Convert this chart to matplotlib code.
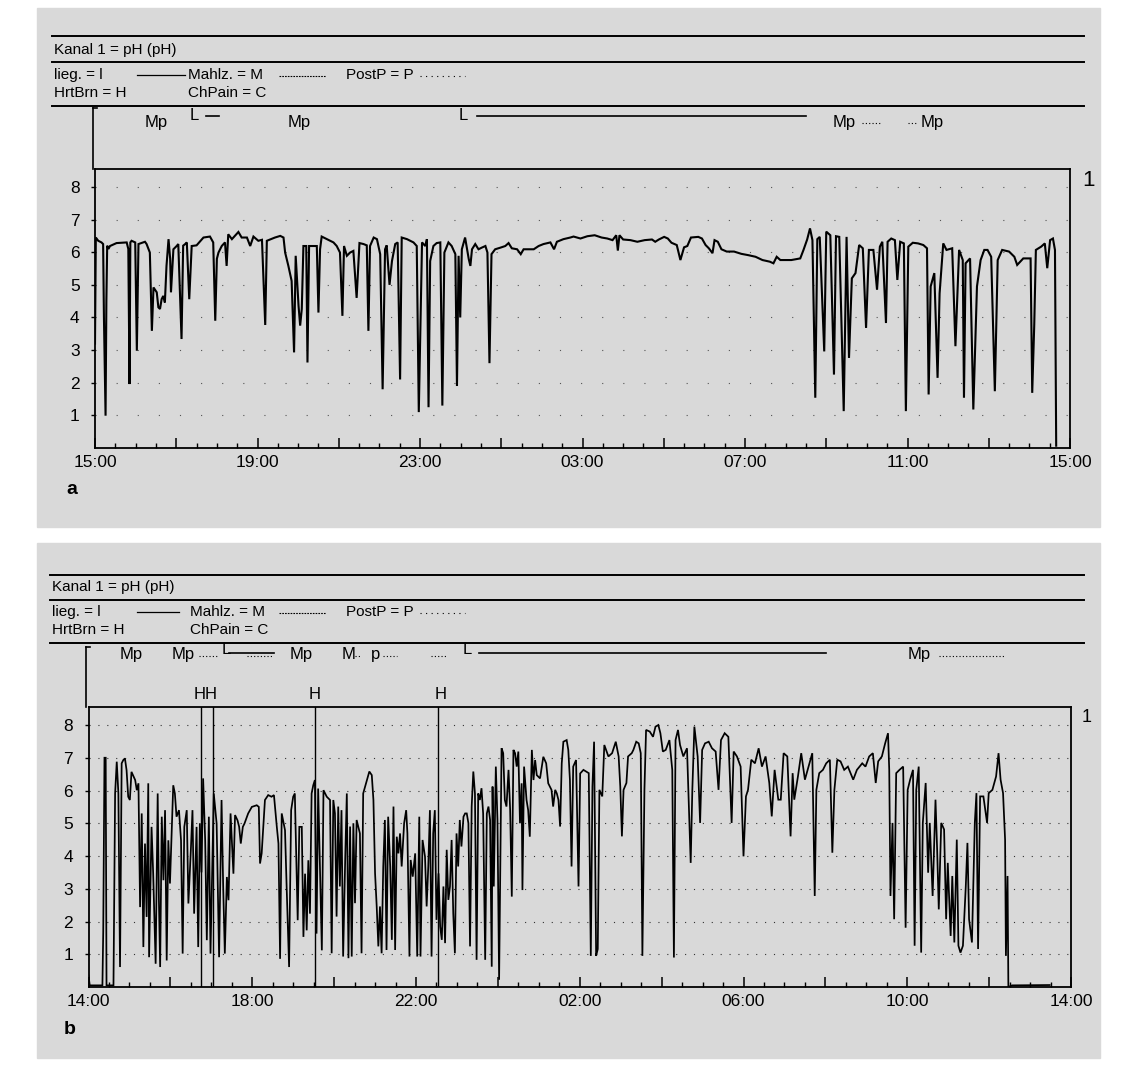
"""24-h oesophageal pH recordings (two patients, panels a and b)."""
import matplotlib
matplotlib.use("Agg")
import matplotlib.pyplot as plt
from matplotlib.lines import Line2D
from matplotlib.patches import Rectangle
import numpy as np

plt.rcParams["font.family"] = ["Liberation Sans", "DejaVu Sans"]

# ---- panel a: hours after 15:00, pH ----
a_afternoon = [
    (0.00, 3.20), (0.02, 6.45), (0.08, 6.35), (0.16, 6.30), (0.20, 6.25), (0.22, 4.00),
    (0.26, 0.99), (0.28, 4.50), (0.30, 6.20), (0.33, 6.10), (0.37, 6.19), (0.53, 6.28),
    (0.78, 6.30), (0.82, 6.10), (0.85, 1.96), (0.87, 6.30), (0.90, 6.35), (0.99, 6.30),
    (1.03, 2.98), (1.07, 6.25), (1.23, 6.32), (1.27, 6.25), (1.35, 5.99), (1.40, 3.59),
    (1.44, 4.92), (1.52, 4.77), (1.56, 4.31), (1.60, 4.26), (1.64, 4.56), (1.68, 4.66),
    (1.72, 4.46), (1.76, 5.58), (1.81, 6.40), (1.85, 5.80), (1.87, 4.77), (1.93, 6.09),
    (2.01, 6.19), (2.05, 6.25), (2.13, 3.34), (2.17, 6.20), (2.22, 6.25), (2.26, 6.30),
    (2.32, 4.56), (2.38, 6.19), (2.50, 6.21), (2.67, 6.45), (2.83, 6.48), (2.91, 6.30),
    (2.96, 3.90), (3.00, 5.80), (3.04, 5.99), (3.12, 6.19), (3.20, 6.30), (3.24, 5.58),
    (3.28, 6.55), (3.37, 6.40), (3.53, 6.62), (3.61, 6.45), (3.74, 6.45), (3.82, 6.19),
    (3.90, 6.48), (4.02, 6.35), (4.11, 6.38), (4.15, 5.07), (4.19, 3.77), (4.23, 6.35),
    (4.43, 6.45), (4.56, 6.50), (4.64, 6.45), (4.68, 5.99), (4.76, 5.58), (4.84, 5.12),
    (4.90, 2.93), (4.94, 5.89), (5.01, 4.36), (5.05, 3.75), (5.09, 4.26), (5.13, 6.19),
    (5.20, 6.19), (5.23, 2.62), (5.27, 6.19), (5.38, 6.19), (5.46, 6.19), (5.50, 4.15),
    (5.54, 6.09), (5.58, 6.48),
]
a_night = [
    (5.79, 6.35), (5.87, 6.30), (5.95, 6.19), (6.03, 5.99), (6.09, 4.05), (6.13, 6.19),
    (6.20, 5.89), (6.28, 5.99), (6.36, 6.04), (6.44, 4.60), (6.51, 6.28), (6.61, 6.25),
    (6.69, 6.21), (6.73, 3.59), (6.77, 6.19), (6.86, 6.45), (6.94, 6.40), (7.02, 5.94),
    (7.08, 1.80), (7.14, 6.09), (7.18, 6.21), (7.25, 5.00), (7.31, 5.73), (7.39, 6.25),
    (7.45, 6.30), (7.51, 2.10), (7.55, 6.45), (7.68, 6.40), (7.84, 6.30), (7.92, 6.19),
    (7.97, 1.10), (8.05, 6.30), (8.13, 6.19), (8.17, 6.40), (8.21, 1.25), (8.25, 5.73),
    (8.33, 6.19), (8.41, 6.28), (8.50, 6.30), (8.55, 1.30), (8.60, 5.99), (8.70, 6.30),
    (8.78, 6.19), (8.87, 5.94), (8.91, 1.90), (8.95, 5.89), (8.99, 4.00), (9.03, 6.09),
    (9.11, 6.45), (9.20, 5.79), (9.24, 5.58), (9.28, 6.09), (9.36, 6.25), (9.44, 6.09),
    (9.52, 6.14), (9.61, 6.19), (9.66, 5.99), (9.71, 2.60), (9.76, 5.94), (9.85, 6.09),
    (9.98, 6.14), (10.10, 6.19), (10.18, 6.28), (10.26, 6.12), (10.39, 6.09), (10.48, 5.94),
    (10.55, 6.09), (10.80, 6.09), (10.92, 6.19), (11.04, 6.25), (11.21, 6.30), (11.30, 6.09),
    (11.37, 6.32), (11.53, 6.40), (11.70, 6.45), (11.78, 6.48), (11.95, 6.42),
]
a_morning = [
    (12.12, 6.49), (12.30, 6.52), (12.47, 6.45), (12.61, 6.42), (12.74, 6.37), (12.83, 6.52),
    (12.87, 6.05), (12.91, 6.52), (13.00, 6.39), (13.18, 6.37), (13.35, 6.32), (13.53, 6.37),
    (13.71, 6.39), (13.79, 6.32), (13.88, 6.39), (14.01, 6.47), (14.10, 6.42), (14.19, 6.29),
    (14.32, 6.22), (14.41, 5.76), (14.50, 6.15), (14.58, 6.19), (14.67, 6.45), (14.85, 6.47),
    (14.94, 6.42), (15.03, 6.22), (15.11, 6.12), (15.20, 5.97), (15.25, 6.37), (15.33, 6.32),
    (15.42, 6.09), (15.55, 6.02), (15.73, 6.02), (15.91, 5.95), (16.08, 5.91), (16.26, 5.86),
    (16.43, 5.76), (16.61, 5.71), (16.70, 5.66), (16.78, 5.86), (16.87, 5.76), (17.14, 5.76),
    (17.36, 5.81), (17.44, 6.07), (17.53, 6.39), (17.60, 6.73), (17.66, 6.37), (17.73, 1.54),
    (17.78, 6.40), (17.84, 6.47), (17.95, 2.96), (18.00, 6.63), (18.10, 6.52), (18.19, 2.25),
    (18.24, 6.49), (18.32, 6.47), (18.43, 1.13), (18.50, 6.47), (18.56, 2.76), (18.63, 5.20),
    (18.72, 5.36), (18.81, 6.22), (18.90, 6.12), (18.98, 3.68), (19.05, 6.07), (19.16, 6.07),
    (19.25, 4.85), (19.32, 6.17), (19.38, 6.32), (19.47, 3.83), (19.51, 6.32), (19.60, 6.42),
    (19.69, 6.37), (19.75, 5.15), (19.82, 6.32), (19.91, 6.27), (19.96, 1.13), (20.02, 6.17),
    (20.13, 6.29), (20.26, 6.27), (20.39, 6.22), (20.48, 6.12), (20.52, 1.64), (20.57, 4.95),
    (20.66, 5.36), (20.74, 2.15), (20.79, 4.74), (20.88, 6.27), (20.96, 6.07), (21.10, 6.12),
    (21.18, 3.12), (21.27, 6.07), (21.36, 5.76), (21.39, 1.54), (21.43, 5.66), (21.54, 5.81),
    (21.62, 1.18), (21.71, 4.95), (21.80, 5.76), (21.89, 6.07), (21.97, 6.07), (22.06, 5.86),
    (22.15, 1.74), (22.22, 5.76), (22.33, 6.07), (22.50, 6.02), (22.63, 5.86), (22.70, 5.61),
    (22.85, 5.81), (23.03, 5.81), (23.07, 1.69), (23.12, 3.78), (23.16, 6.07), (23.29, 6.17),
    (23.38, 6.27), (23.44, 5.51), (23.51, 6.37), (23.58, 6.42), (23.63, 6.07), (23.66, 0.07),
]

# ---- panel b: hours after 14:00, pH ----
b_afternoon = [
    (0.00, 0.35), (0.03, 0.05), (0.34, 0.05), (0.36, 1.70), (0.39, 7.00), (0.42, 7.00),
    (0.44, 0.05), (0.61, 0.05), (0.65, 5.91), (0.69, 6.88), (0.73, 5.91), (0.77, 0.61),
    (0.81, 6.83), (0.85, 6.93), (0.89, 6.98), (0.93, 6.62), (0.97, 5.81), (1.01, 5.71),
    (1.05, 6.57), (1.14, 6.32), (1.18, 6.01), (1.22, 6.22), (1.26, 2.44), (1.30, 5.30),
    (1.34, 1.22), (1.38, 4.38), (1.42, 2.14), (1.46, 6.22), (1.48, 0.91), (1.54, 4.89),
    (1.58, 3.46), (1.64, 0.71), (1.69, 5.91), (1.72, 2.65), (1.75, 0.61), (1.79, 5.20),
    (1.83, 3.26), (1.87, 5.40), (1.91, 0.81), (1.95, 4.48), (1.99, 3.16), (2.07, 6.16),
    (2.11, 5.91), (2.15, 5.20), (2.21, 5.40), (2.26, 4.48), (2.30, 1.02), (2.34, 4.89),
    (2.40, 5.40), (2.44, 2.55), (2.50, 4.18), (2.54, 5.40), (2.58, 2.24), (2.64, 4.89),
    (2.68, 1.22), (2.72, 5.00), (2.76, 3.50), (2.80, 6.37), (2.85, 4.48), (2.89, 1.43),
    (2.94, 5.20), (2.98, 1.02), (3.06, 5.91), (3.13, 4.99), (3.19, 0.91), (3.25, 5.71),
    (3.29, 3.06), (3.33, 1.02), (3.38, 3.36), (3.42, 2.65), (3.47, 5.30), (3.54, 3.46),
    (3.58, 5.25), (3.64, 5.09), (3.68, 4.89), (3.72, 4.38), (3.77, 4.89), (3.81, 4.99),
    (3.90, 5.30), (3.99, 5.50), (4.11, 5.55), (4.16, 5.50), (4.19, 3.77), (4.23, 4.08),
    (4.31, 5.71), (4.39, 5.86), (4.47, 5.81), (4.53, 5.86), (4.60, 4.89), (4.64, 4.38),
    (4.68, 0.86), (4.72, 5.30), (4.80, 4.79), (4.84, 3.06), (4.90, 0.61), (4.95, 5.40),
    (5.00, 5.81), (5.04, 5.91), (5.11, 2.04), (5.15, 4.89), (5.21, 4.89), (5.25, 1.53),
    (5.29, 3.46), (5.33, 1.73), (5.37, 3.87), (5.41, 2.24), (5.45, 5.91), (5.49, 6.16),
    (5.53, 6.32), (5.57, 1.63), (5.61, 6.06), (5.65, 3.87), (5.70, 1.12), (5.74, 6.01),
    (5.82, 5.81), (5.90, 5.71),
]
b_night = [
    (5.94, 1.03), (5.98, 5.71), (6.02, 5.30), (6.06, 2.15), (6.10, 5.51), (6.14, 3.07),
    (6.18, 5.40), (6.22, 0.93), (6.27, 3.88), (6.31, 5.91), (6.35, 0.88), (6.39, 4.90),
    (6.43, 0.93), (6.47, 5.00), (6.51, 2.56), (6.55, 5.10), (6.59, 4.90), (6.63, 4.69),
    (6.67, 1.03), (6.71, 5.91), (6.78, 6.22), (6.86, 6.58), (6.92, 6.47), (6.96, 5.71),
    (7.00, 3.47), (7.04, 2.46), (7.08, 1.24), (7.12, 2.46), (7.16, 1.03), (7.20, 3.68),
    (7.24, 5.10), (7.28, 1.13), (7.32, 5.20), (7.37, 3.68), (7.41, 1.44), (7.45, 5.51),
    (7.49, 1.13), (7.53, 4.59), (7.57, 4.08), (7.61, 4.69), (7.65, 3.68), (7.71, 5.00),
    (7.76, 5.40), (7.79, 4.69), (7.84, 0.93), (7.87, 3.88), (7.92, 3.37), (7.98, 4.08),
    (8.03, 0.93), (8.08, 5.20), (8.11, 0.93), (8.16, 4.49), (8.22, 3.98), (8.26, 2.46),
    (8.30, 3.68), (8.34, 5.40), (8.38, 0.93), (8.42, 4.69), (8.46, 5.40), (8.50, 2.05),
    (8.55, 3.47), (8.59, 1.85), (8.63, 1.44), (8.67, 3.07), (8.71, 1.34), (8.75, 4.19),
    (8.79, 2.66), (8.83, 3.07), (8.87, 4.49), (8.91, 2.25), (8.95, 1.03), (8.99, 4.69),
    (9.03, 3.68), (9.07, 5.10), (9.11, 4.29), (9.16, 5.20), (9.20, 5.30), (9.24, 5.30),
    (9.28, 5.00), (9.32, 1.24), (9.36, 5.51), (9.40, 6.58), (9.44, 5.91), (9.48, 0.83),
    (9.52, 5.91), (9.56, 5.71), (9.60, 6.07), (9.64, 5.30), (9.69, 0.83), (9.73, 5.30),
    (9.77, 5.51), (9.81, 5.10), (9.85, 0.62), (9.87, 6.12), (9.90, 3.07), (9.95, 6.73),
    (9.99, 5.10), (10.03, 0.22), (10.09, 7.29), (10.13, 7.14), (10.17, 5.71), (10.21, 5.51),
    (10.26, 6.63), (10.30, 5.40), (10.34, 2.76), (10.38, 7.24), (10.42, 7.14), (10.46, 6.73),
    (10.50, 7.19), (10.54, 5.00), (10.58, 6.22), (10.60, 2.96), (10.64, 6.73), (10.70, 5.71),
    (10.74, 5.40), (10.78, 4.59), (10.83, 7.24), (10.87, 6.32), (10.91, 6.93), (10.95, 6.47),
    (11.03, 6.37), (11.11, 7.03), (11.18, 6.83), (11.23, 6.22), (11.31, 6.02), (11.35, 5.51),
    (11.40, 6.02), (11.44, 5.91), (11.48, 5.71), (11.52, 4.90), (11.56, 6.83), (11.60, 7.49),
    (11.68, 7.54), (11.72, 7.24), (11.76, 6.32), (11.80, 3.68), (11.84, 6.73), (11.91, 6.93),
    (11.97, 3.07), (12.01, 6.52),
]
b_day = [
    (12.09, 6.63), (12.22, 6.53), (12.27, 0.95), (12.31, 6.12), (12.35, 7.49), (12.40, 0.95),
    (12.44, 1.16), (12.48, 6.02), (12.55, 5.82), (12.60, 7.39), (12.70, 7.04), (12.79, 7.14),
    (12.88, 7.49), (12.95, 7.04), (12.99, 6.12), (13.03, 4.60), (13.07, 6.02), (13.14, 6.23),
    (13.18, 7.04), (13.27, 7.14), (13.31, 7.24), (13.38, 7.49), (13.44, 7.44), (13.49, 7.14),
    (13.53, 0.95), (13.58, 6.02), (13.62, 7.85), (13.71, 7.80), (13.79, 7.64), (13.85, 7.95),
    (13.92, 8.00), (13.97, 7.75), (14.03, 7.19), (14.10, 7.24), (14.19, 7.54), (14.26, 6.63),
    (14.30, 0.90), (14.34, 7.54), (14.40, 7.85), (14.45, 7.39), (14.53, 7.04), (14.62, 7.29),
    (14.71, 3.79), (14.75, 6.02), (14.80, 7.95), (14.88, 7.04), (14.94, 5.01), (14.99, 7.24),
    (15.06, 7.44), (15.15, 7.49), (15.23, 7.29), (15.32, 7.19), (15.39, 6.02), (15.45, 7.54),
    (15.54, 7.75), (15.63, 7.64), (15.71, 5.01), (15.76, 7.19), (15.84, 7.04), (15.93, 6.73),
    (16.00, 3.99), (16.06, 5.82), (16.11, 6.02), (16.19, 6.94), (16.28, 6.83), (16.37, 7.29),
    (16.45, 6.73), (16.54, 7.04), (16.63, 6.23), (16.69, 5.21), (16.76, 6.63), (16.85, 5.72),
    (16.91, 5.72), (16.98, 7.14), (17.07, 7.04), (17.15, 4.60), (17.20, 6.53), (17.24, 5.72),
    (17.33, 6.43), (17.41, 7.14), (17.50, 6.33), (17.59, 6.73), (17.68, 7.14), (17.74, 2.78),
    (17.78, 6.02), (17.85, 6.53), (17.94, 6.63), (18.02, 6.83), (18.11, 6.94), (18.17, 4.10),
    (18.22, 6.02), (18.29, 6.94), (18.37, 6.89), (18.46, 6.63), (18.55, 6.73), (18.68, 6.33),
    (18.77, 6.63), (18.90, 6.83), (18.98, 6.73), (19.07, 7.04), (19.16, 7.14), (19.23, 6.23),
    (19.29, 6.89), (19.38, 7.04), (19.46, 7.44), (19.53, 7.75), (19.56, 6.63), (19.59, 2.78),
    (19.64, 5.01), (19.68, 2.07), (19.73, 6.53), (19.81, 6.63), (19.90, 6.73), (19.96, 1.81),
    (20.01, 6.02), (20.07, 6.33), (20.14, 6.63), (20.18, 1.26), (20.22, 6.02), (20.28, 6.73),
    (20.34, 1.05), (20.38, 5.01), (20.45, 6.23), (20.51, 3.49), (20.55, 5.01), (20.62, 2.78),
    (20.69, 5.72), (20.73, 4.20), (20.77, 2.37), (20.83, 5.01), (20.90, 4.81), (20.95, 2.07),
    (20.99, 3.79), (21.06, 1.56), (21.10, 3.39), (21.15, 1.36), (21.21, 4.50), (21.25, 1.26),
    (21.30, 1.05), (21.36, 1.26), (21.43, 3.08), (21.47, 4.40), (21.51, 2.07), (21.58, 1.36),
    (21.65, 5.01), (21.69, 5.92), (21.73, 1.16), (21.78, 5.82), (21.86, 5.82), (21.95, 5.01),
    (21.99, 5.92), (22.08, 6.02), (22.17, 6.43), (22.23, 7.14), (22.28, 6.33), (22.34, 5.92),
    (22.39, 4.50), (22.41, 0.95), (22.45, 3.39), (22.47, 0.00), (22.56, 0.05), (23.48, 0.06),
]

a_ticklabels = ["15:00", "19:00", "23:00", "03:00", "07:00", "11:00", "15:00"]
b_ticklabels = ["14:00", "18:00", "22:00", "02:00", "06:00", "10:00", "14:00"]
b_heartburn = [2.76, 3.03, 5.53, 8.53]   # hours after 14:00

BG = "#d9d9d9"
W, H = 1140, 1066
fig = plt.figure(figsize=(W / 100, H / 100), dpi=100)
fig.patch.set_facecolor("white")


def fx(px):
    return px / W


def fy(py):
    return 1 - py / H


def fline(x0, x1, y0, y1, **kw):
    kw.setdefault("color", "black")
    kw.setdefault("lw", 1.2)
    fig.add_artist(Line2D([fx(x0), fx(x1)], [fy(y0), fy(y1)], transform=fig.transFigure, **kw))


def ftext(x, y, s, **kw):
    kw.setdefault("fontsize", 11)
    kw.setdefault("va", "center")
    fig.text(fx(x), fy(y), s, **kw)


for top, bot in [(8, 527), (543, 1058)]:
    fig.add_artist(Rectangle((fx(37), fy(bot)), (1100 - 37) / W, (bot - top) / H,
                             transform=fig.transFigure, color=BG, zorder=0))


def header(y_top, y_mid, y_low, y_row1, y_row2, y_kanal, x0, dash_end, mahlz_x):
    for y in (y_top, y_mid, y_low):
        fline(x0, 1084, y, y, lw=1.4)
    ftext(x0 + 2, y_kanal, "Kanal 1 = pH (pH)")
    ftext(x0 + 2, y_row1, "lieg. = l")
    fline(137, dash_end, y_row1, y_row1, lw=0.9)
    ftext(mahlz_x, y_row1, "Mahlz. = M")
    fline(279, 326, y_row1 + 1, y_row1 + 1, lw=0.8, ls=(0, (1.5, 1)))
    ftext(346, y_row1, "PostP = P")
    fline(420, 465, y_row1 + 1, y_row1 + 1, lw=0.8, ls=(0, (1, 4)))
    ftext(x0 + 2, y_row2, "HrtBrn = H")
    ftext(mahlz_x, y_row2, "ChPain = C")


header(36, 62, 106, 75, 93, 50, 52, 185, 188)
header(575, 600, 643, 612, 630, 587, 50, 179, 190)


def make_axes(left, top, right, bottom):
    return fig.add_axes([fx(left), fy(bottom), (right - left) / W, (bottom - top) / H])


def draw_panel(ax, segments, labels, lw, grid_ls, grid_color):
    hours = [t for seg in segments for t, _ in seg]
    ph = [v for seg in segments for _, v in seg]
    ax.set_facecolor(BG)
    ax.plot(hours, ph, color="black", lw=lw, solid_joinstyle="miter", zorder=3)
    ax.set_xlim(0, 24)
    ax.set_ylim(0, 8.55)
    major = np.arange(0, 25, 2)
    ax.set_xticks(major)
    ax.set_xticklabels([labels[i // 2] if i % 2 == 0 else "" for i in range(len(major))])
    ax.set_xticks(np.arange(0, 24.01, 0.5), minor=True)
    ax.set_yticks(range(1, 9))
    ax.tick_params(axis="x", which="major", direction="in", length=7, width=1.1,
                   labelsize=12.5, pad=5)
    ax.tick_params(axis="x", which="minor", direction="in", length=3.5, width=1)
    ax.tick_params(axis="y", direction="out", length=3, width=1, labelsize=12.5, pad=8)
    for y in range(1, 9):
        ax.axhline(y, color=grid_color, lw=0.8, ls=grid_ls, zorder=1)
    for s in ax.spines.values():
        s.set_linewidth(1.3)


ax_a = make_axes(95, 169, 1070, 448)
draw_panel(ax_a, [a_afternoon, a_night, a_morning], a_ticklabels, 1.5,
           (0, (1, 18)), "#555555")
ax_b = make_axes(88.5, 707, 1071, 987)
draw_panel(ax_b, [b_afternoon, b_night, b_day], b_ticklabels, 1.25,
           (0, (1, 7)), "#333333")
for t in b_heartburn:
    ax_b.axvline(t, color="black", lw=1.0, zorder=3)

# event boxes (bracket on the left, bottom edge = plot top)
fline(93, 93, 108, 169, lw=1.2)
fline(93, 97, 108, 108, lw=1.2)
fline(86, 86, 647, 707, lw=1.2)
fline(86, 90, 647, 647, lw=1.2)

# event markers above panel a (x in hours)
ta = ax_a.get_xaxis_transform()
ev_kw = dict(transform=ta, fontsize=12, ha="center", va="center", clip_on=False)
for t, s in [(1.50, "Mp"), (5.02, "Mp"), (18.45, "Mp"), (20.62, "Mp")]:
    ax_a.text(t, 1.165, s, **ev_kw)
for t in (2.44, 9.06):
    ax_a.text(t, 1.19, "L", **ev_kw)
for t0, t1, ls, lw in [(2.73, 3.05, "-", 1.2), (9.41, 17.49, "-", 1.2),
                       (18.89, 19.33, (0, (1, 2)), 0.8), (20.00, 20.22, (0, (1, 2)), 0.8)]:
    y = 1.19 if ls == "-" else 1.165
    ax_a.plot([t0, t1], [y, y], transform=ta, color="black", lw=lw, ls=ls, clip_on=False)

# event markers above panel b
tb = ax_b.get_xaxis_transform()
ev_kw = dict(transform=tb, fontsize=12, ha="center", va="center", clip_on=False)
for t, s in [(1.04, "Mp"), (2.31, "Mp"), (5.19, "Mp"), (6.36, "M"), (7.02, "p"), (20.29, "Mp")]:
    ax_b.text(t, 1.186, s, **ev_kw)
for t in (3.36, 9.24):
    ax_b.text(t, 1.205, "L", **ev_kw)
for t, s in [(2.87, "HH"), (5.53, "H"), (8.59, "H")]:
    ax_b.text(t, 1.043, s, **ev_kw)
for t0, t1 in [(3.43, 4.53), (9.54, 18.01)]:
    ax_b.plot([t0, t1], [1.193, 1.193], transform=tb, color="black", lw=1.2, clip_on=False)
for t0, t1 in [(2.70, 3.19), (3.87, 4.48), (6.50, 6.62), (7.19, 7.54), (8.37, 8.76), (20.77, 22.39)]:
    ax_b.plot([t0, t1], [1.183, 1.183], transform=tb, color="black", lw=0.8,
              ls=(0, (1, 2)), clip_on=False)

ftext(1082, 180, "1", fontsize=16)
ftext(1082, 718, "1", fontsize=13)
ftext(66, 490, "a", fontsize=14, fontweight="bold")
ftext(64, 1030, "b", fontsize=14, fontweight="bold")

fig.savefig("out.png", dpi=100, facecolor="white")
